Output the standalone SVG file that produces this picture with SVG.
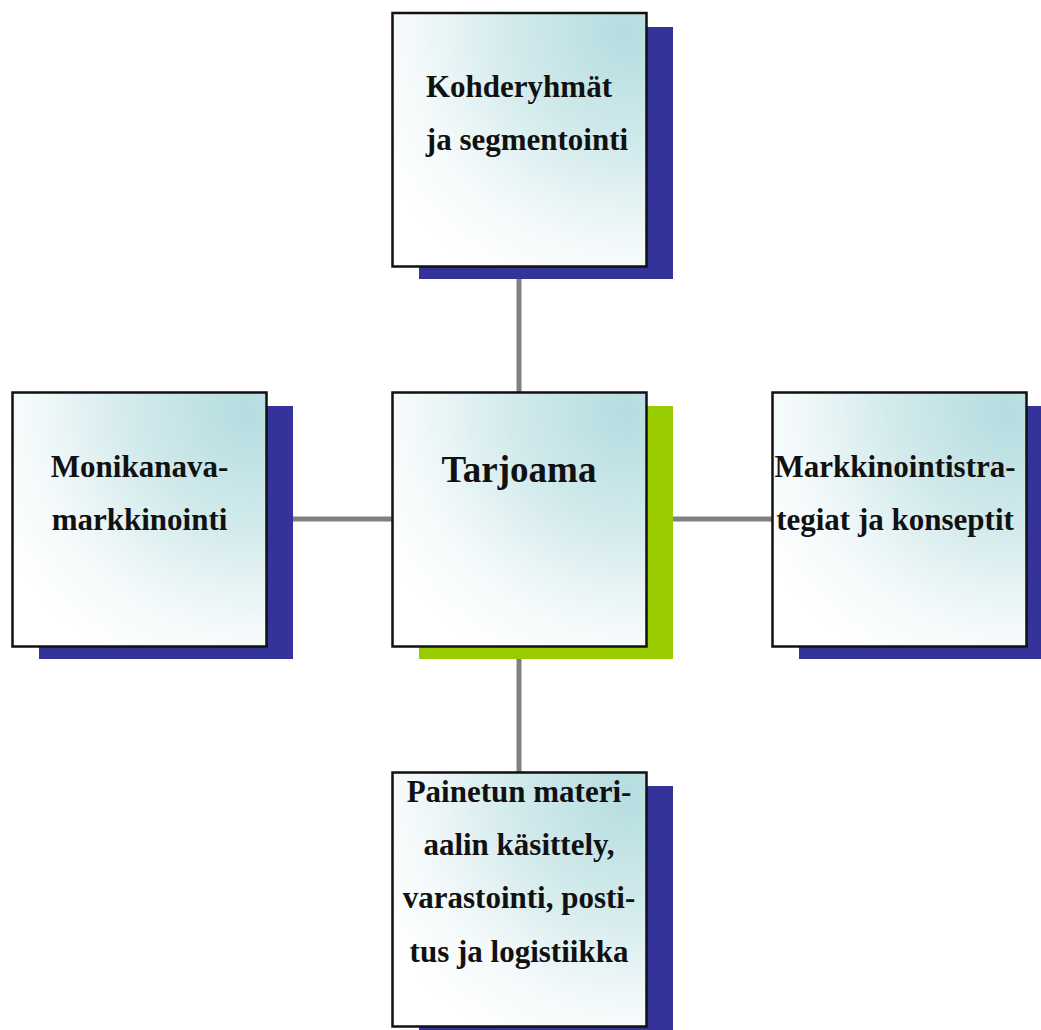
<svg xmlns="http://www.w3.org/2000/svg" width="1041" height="1030" viewBox="0 0 1041 1030">
<defs>
<radialGradient id="g" cx="1" cy="0" r="1.2" fx="0.92" fy="0.08">
<stop offset="0" stop-color="#b5dde0"/>
<stop offset="0.4" stop-color="#d2eaec"/>
<stop offset="0.75" stop-color="#f3f9fa"/>
<stop offset="1" stop-color="#ffffff"/>
</radialGradient>
<style>
.box{fill:url(#g);stroke:#111;stroke-width:2.5}
.sh{fill:#343399}
.shg{fill:#99cc00}
.t{font-family:"Liberation Serif",serif;font-weight:bold;font-size:31px;fill:#111;text-anchor:middle}
.big{font-size:37px}
.c{stroke:#808080;stroke-width:5;fill:none}
</style>
</defs>
<rect width="1041" height="1030" fill="#fff"/>
<g id="connectors">
<line class="c" x1="519" y1="266" x2="519" y2="392"/>
<line class="c" x1="519" y1="659" x2="519" y2="772"/>
<line class="c" x1="293" y1="519" x2="392" y2="519"/>
<line class="c" x1="673" y1="519" x2="772" y2="519"/>
</g>
<g id="top">
<rect class="sh" x="419" y="27" width="254" height="252"/>
<rect class="box" x="392.5" y="13" width="254" height="253.5"/>
<text class="t" x="519" y="97">Kohderyhmät</text>
<text class="t" x="527" y="150">ja segmentointi</text>
</g>
<g id="center">
<rect class="shg" x="419" y="406" width="254" height="253"/>
<rect class="box" x="392.5" y="392.5" width="254" height="254"/>
<text class="t big" x="519" y="482">Tarjoama</text>
</g>
<g id="left">
<rect class="sh" x="39" y="406" width="254" height="253"/>
<rect class="box" x="12.5" y="392.5" width="254" height="254"/>
<text class="t" x="139.5" y="477">Monikanava-</text>
<text class="t" x="139.5" y="530">markkinointi</text>
</g>
<g id="right">
<rect class="sh" x="799" y="406" width="254" height="253"/>
<rect class="box" x="772.5" y="392.5" width="254" height="254"/>
<text class="t" x="895" y="477">Markkinointistra-</text>
<text class="t" x="895" y="530">tegiat ja konseptit</text>
</g>
<g id="bottom">
<rect class="sh" x="419" y="786" width="254" height="253"/>
<rect class="box" x="392.5" y="772.5" width="254" height="254"/>
<text class="t" x="519" y="802">Painetun materi-</text>
<text class="t" x="519" y="855">aalin käsittely,</text>
<text class="t" x="519" y="908">varastointi, posti-</text>
<text class="t" x="519" y="962">tus ja logistiikka</text>
</g>
</svg>
